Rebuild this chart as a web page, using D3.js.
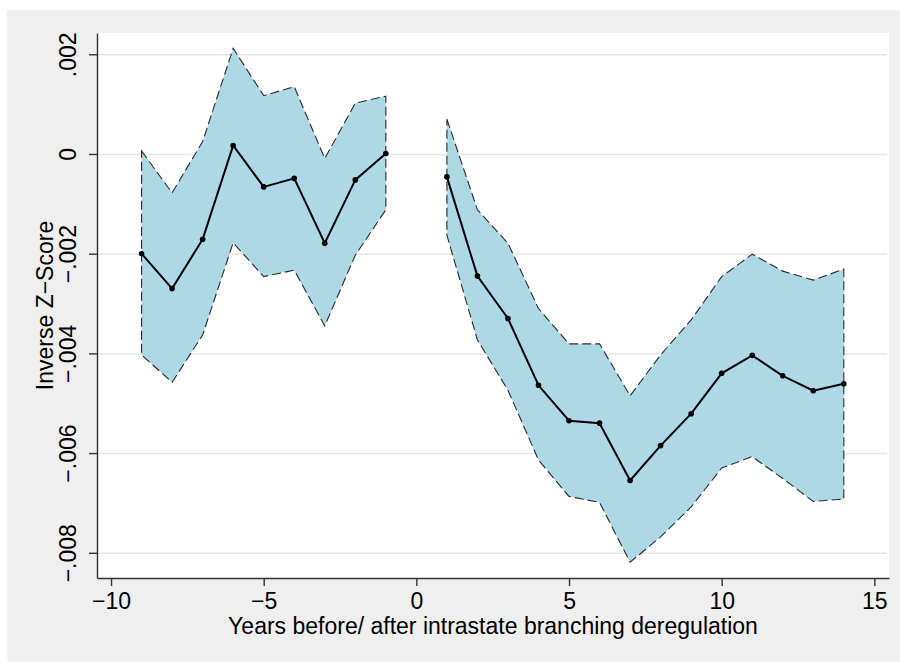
<!DOCTYPE html>
<html>
<head>
<meta charset="utf-8">
<script src="https://cdn.jsdelivr.net/npm/d3@7"></script>
<style>
  body { margin: 0; background: #fff; }
  svg { display: block; font-family: "Liberation Sans", Arial, sans-serif; }
</style>
</head>
<body>
<svg id="chart" width="900" height="662"></svg>
<script>
// years relative to deregulation, point estimates and confidence bands
var preYears = [-9, -8, -7, -6, -5, -4, -3, -2, -1];
var preEst   = [-0.00200, -0.00270, -0.00171, 0.00017, -0.00066, -0.00049, -0.00179, -0.00052, 0.00001];
var preUpper = [0.00006, -0.00078, 0.00025, 0.00212, 0.00117, 0.00135, -0.00009, 0.00102, 0.00116];
var preLower = [-0.00403, -0.00458, -0.00363, -0.00178, -0.00246, -0.00233, -0.00345, -0.00203, -0.00112];

var postYears = [1, 2, 3, 4, 5, 6, 7, 8, 9, 10, 11, 12, 13, 14];
var postEst   = [-0.00046, -0.00245, -0.00330, -0.00464, -0.00535, -0.00540, -0.00655, -0.00585, -0.00521, -0.00440, -0.00404, -0.00445, -0.00475, -0.00461];
var postUpper = [0.00070, -0.00112, -0.00179, -0.00310, -0.00381, -0.00381, -0.00485, -0.00403, -0.00333, -0.00246, -0.00201, -0.00235, -0.00253, -0.00231];
var postLower = [-0.00163, -0.00373, -0.00474, -0.00614, -0.00687, -0.00699, -0.00819, -0.00768, -0.00708, -0.00630, -0.00607, -0.00651, -0.00697, -0.00692];

var xTicks = [-10, -5, 0, 5, 10, 15];
var xTickLabels = ['\u221210', '\u22125', '0', '5', '10', '15'];
var yTicks = [0.002, 0, -0.002, -0.004, -0.006, -0.008];
var yTickLabels = ['.002', '0', '\u2212.002', '\u2212.004', '\u2212.006', '\u2212.008'];

var xTitle = 'Years before/ after intrastate branching deregulation';
var yTitle = 'Inverse Z\u2212Score';

// plot region (window.top is reserved, so use other names)
var plotLeft = 97, plotRight = 889, plotTop = 33, plotBottom = 578;
var fontSize = '23px';

var svg = d3.select('#chart');

// grey graph region
svg.append('rect')
    .attr('x', 7).attr('y', 10)
    .attr('width', 893).attr('height', 652)
    .attr('fill', '#efefef');

// white plot region
svg.append('rect')
    .attr('x', plotLeft).attr('y', plotTop)
    .attr('width', plotRight - plotLeft).attr('height', plotBottom - plotTop)
    .attr('fill', '#fff');

var xScale = d3.scaleLinear().domain([-10.46, 15.48]).range([plotLeft, plotRight]);
var yScale = d3.scaleLinear().domain([-0.008506, 0.002427]).range([plotBottom, plotTop]);

// gridlines
svg.append('g')
    .attr('transform', `translate(${plotLeft}, 0)`)
    .call(d3.axisLeft(yScale).tickValues(yTicks).tickSize(-(plotRight - plotLeft - 2)).tickFormat(''))
    .call(g => g.select('.domain').remove())
    .selectAll('line')
        .attr('stroke', '#e6e6e6')
        .attr('stroke-width', 1.5);

function drawSeries(years, est, upper, lower){
    var rows = years.map((d, i) => ({x: d, y: est[i], hi: upper[i], lo: lower[i]}));

    var area = d3.area()
        .x(d => xScale(d.x))
        .y0(d => yScale(d.lo))
        .y1(d => yScale(d.hi));

    svg.append('path')
        .datum(rows)
        .attr('d', area)
        .attr('fill', '#add8e6')
        .attr('stroke', 'none');

    // dashed outline of the band, including the end edges
    var outline = rows.map(d => [xScale(d.x), yScale(d.hi)])
        .concat(rows.slice().reverse().map(d => [xScale(d.x), yScale(d.lo)]));
    svg.append('path')
        .attr('d', d3.line()(outline) + 'Z')
        .attr('fill', 'none')
        .attr('stroke', '#2a2a2a')
        .attr('stroke-width', 1.1)
        .attr('stroke-dasharray', '9,4');

    svg.append('path')
        .datum(rows)
        .attr('d', d3.line().x(d => xScale(d.x)).y(d => yScale(d.y)))
        .attr('fill', 'none')
        .attr('stroke', '#000')
        .attr('stroke-width', 2);

    svg.append('g').selectAll('circle')
        .data(rows)
        .enter()
        .append('circle')
            .attr('cx', d => xScale(d.x))
            .attr('cy', d => yScale(d.y))
            .attr('r', 2.8)
            .attr('fill', '#000');
}

drawSeries(preYears, preEst, preUpper, preLower);
drawSeries(postYears, postEst, postUpper, postLower);

// y axis
var yAxis = svg.append('g')
    .attr('transform', `translate(${plotLeft}, 0)`)
    .call(d3.axisLeft(yScale).tickValues(yTicks).tickSize(8).tickSizeOuter(0)
        .tickFormat((d, i) => yTickLabels[i]));
yAxis.selectAll('path, line').attr('stroke', '#333').attr('stroke-width', 1.4);
yAxis.selectAll('text')
    .attr('transform', 'rotate(-90)')
    .attr('x', 0)
    .attr('y', -21)
    .attr('dy', 0)
    .attr('text-anchor', 'middle')
    .attr('fill', '#000')
    .style('font-size', fontSize);

// x axis
var xAxis = svg.append('g')
    .attr('transform', `translate(0, ${plotBottom})`)
    .call(d3.axisBottom(xScale).tickValues(xTicks).tickSize(8).tickSizeOuter(0)
        .tickFormat((d, i) => xTickLabels[i]));
xAxis.selectAll('path, line').attr('stroke', '#333').attr('stroke-width', 1.4);
xAxis.selectAll('text')
    .attr('y', 31)
    .attr('dy', 0)
    .attr('fill', '#000')
    .style('font-size', fontSize);

// axis titles
svg.append('text')
    .attr('x', (plotLeft + plotRight) / 2)
    .attr('y', 634)
    .attr('text-anchor', 'middle')
    .style('font-size', fontSize)
    .text(xTitle);

svg.append('text')
    .attr('transform', 'rotate(-90)')
    .attr('x', -(plotTop + plotBottom) / 2)
    .attr('y', 53)
    .attr('text-anchor', 'middle')
    .style('font-size', fontSize)
    .text(yTitle);
</script>
</body>
</html>
